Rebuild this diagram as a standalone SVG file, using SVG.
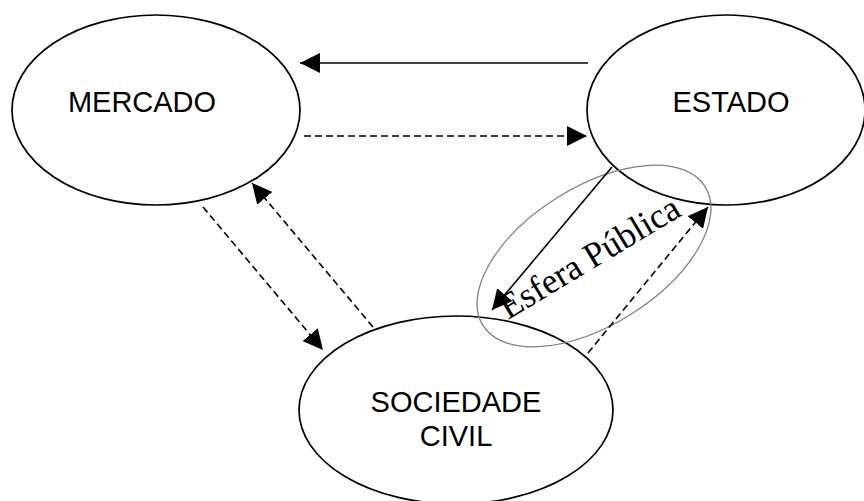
<svg xmlns="http://www.w3.org/2000/svg" width="864" height="501" viewBox="0 0 864 501">
<defs>
<marker id="ah" viewBox="0 0 20 20" refX="20" refY="10" markerWidth="20" markerHeight="20" markerUnits="userSpaceOnUse" orient="auto">
<path d="M0,0 L20,10 L0,20 Z" fill="#000"/>
</marker>
<style>
.node{fill:#fff;stroke:#000;stroke-width:1.7}
.lbl{font-family:"Liberation Sans",Arial,sans-serif;font-size:29px;fill:#000;text-anchor:middle}
.c{fill:none;stroke:#000;stroke-width:1.6}
.d{stroke-dasharray:7,4}
</style>
</defs>
<rect width="864" height="501" fill="#fff"/>
<g id="mercado">
<ellipse class="node" cx="156" cy="110" rx="144" ry="95"/>
<text class="lbl" x="142" y="112">MERCADO</text>
</g>
<g id="estado">
<ellipse class="node" cx="726" cy="110" rx="139" ry="95"/>
<text class="lbl" x="731" y="112">ESTADO</text>
</g>
<g id="sociedade">
<ellipse class="node" cx="456" cy="410" rx="157" ry="94"/>
<text class="lbl" x="456" y="412">SOCIEDADE</text>
<text class="lbl" x="456" y="446">CIVIL</text>
</g>
<g id="esfera">
<ellipse cx="594" cy="256" rx="131" ry="69" transform="rotate(-32 594 256)" fill="none" stroke="#808080" stroke-width="1.3"/>
<text x="508" y="320" transform="rotate(-31 508 320)" font-family="'Liberation Serif','Times New Roman',serif" font-size="36" textLength="204" lengthAdjust="spacingAndGlyphs" fill="#000">Esfera Pública</text>
</g>
<g id="connectors">
<line class="c" x1="588" y1="63" x2="300" y2="63" marker-end="url(#ah)"/>
<line class="c d" x1="304" y1="136" x2="587" y2="136" marker-end="url(#ah)"/>
<line class="c d" x1="203" y1="207" x2="323" y2="350" marker-end="url(#ah)"/>
<line class="c d" x1="373" y1="327" x2="252" y2="183" marker-end="url(#ah)"/>
<line class="c" x1="612" y1="167" x2="492" y2="310" marker-end="url(#ah)"/>
<line class="c d" x1="588" y1="353" x2="708" y2="207" marker-end="url(#ah)"/>
</g>
</svg>
